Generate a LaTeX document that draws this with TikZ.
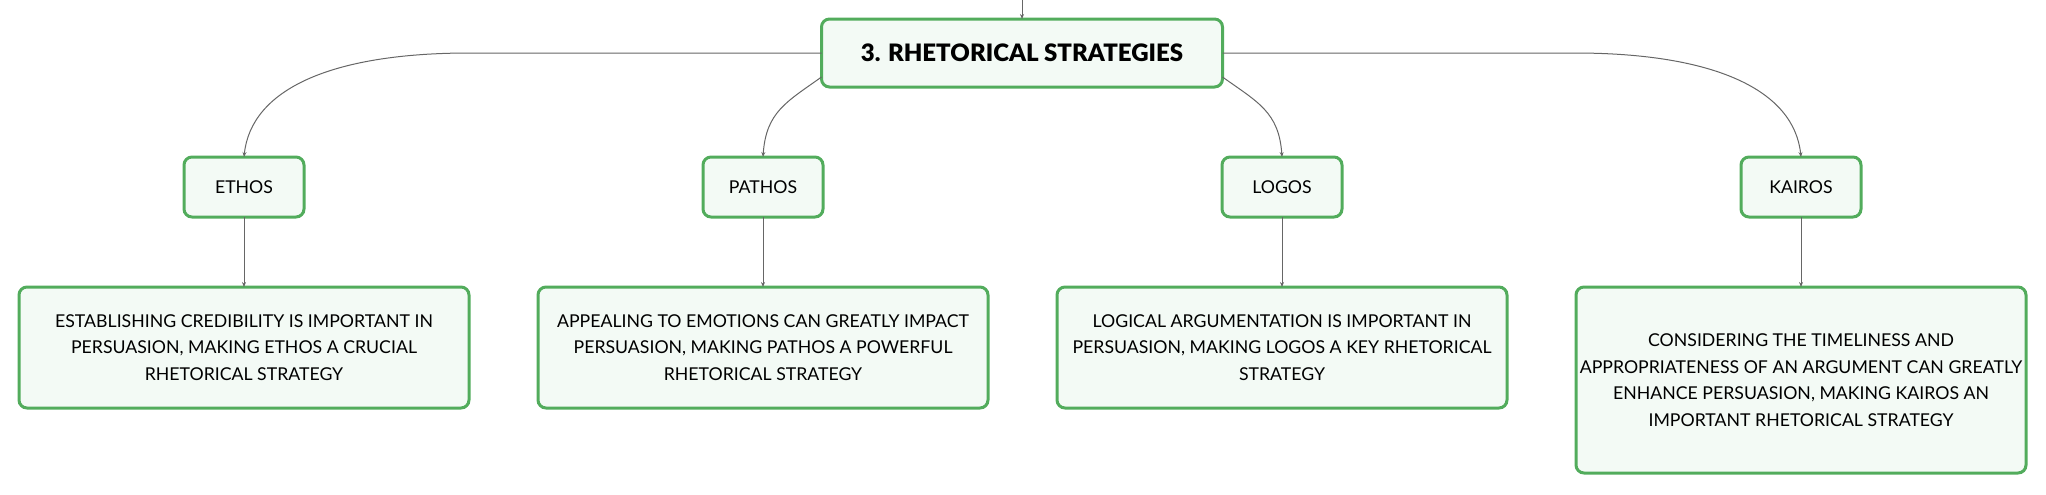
\documentclass[tikz,border=0pt]{standalone}
\usepackage{fontspec}
\setmainfont{Lato}
\newfontfamily\titlefont{Lato Black}
\usetikzlibrary{arrows.meta}
\definecolor{boxgreen}{RGB}{82,172,92}
\definecolor{boxfill}{RGB}{243,250,245}
\definecolor{linkgray}{RGB}{102,102,102}

\begin{document}
\begin{tikzpicture}[x=0.5pt, y=-0.5pt, inner sep=0pt, outer sep=0pt,
  topic/.style={draw=boxgreen, fill=boxfill, line width=1.5pt, rounded corners=4pt, align=center, font=\fontsize{8.85}{13.3}\selectfont},
  subtopic/.style={topic, minimum width=60pt, minimum height=30pt},
  detail/.style={topic, minimum width=225pt, minimum height=60.5pt},
  link/.style={draw=linkgray, line width=0.5pt, -{Stealth[length=2.5pt,width=2pt]}}]
  \useasboundingbox (0,0) rectangle (2046,494);
  % central topic
  \coordinate (top) at (1022,0);
  \node[topic, minimum width=200.5pt, minimum height=34pt, font=\fontsize{12}{14}\titlefont] (title) at (1022,53) {3. RHETORICAL STRATEGIES};
  % the four appeals
  \node[subtopic] (ethos) at (244,187) {ETHOS};
  \node[subtopic] (pathos) at (763,187) {PATHOS};
  \node[subtopic] (logos) at (1282,187) {LOGOS};
  \node[subtopic] (kairos) at (1801,187) {KAIROS};
  % details
  \node[detail] (ethosText) at (244,347.5) {ESTABLISHING CREDIBILITY IS IMPORTANT IN\\PERSUASION, MAKING ETHOS A CRUCIAL\\RHETORICAL STRATEGY};
  \node[detail] (pathosText) at (763,347.5) {APPEALING TO EMOTIONS CAN GREATLY IMPACT\\PERSUASION, MAKING PATHOS A POWERFUL\\RHETORICAL STRATEGY};
  \node[detail] (logosText) at (1282,347.5) {LOGICAL ARGUMENTATION IS IMPORTANT IN\\PERSUASION, MAKING LOGOS A KEY RHETORICAL\\STRATEGY};
  \node[detail, minimum height=93pt] (kairosText) at (1801,380) {CONSIDERING THE TIMELINESS AND\\APPROPRIATENESS OF AN ARGUMENT CAN GREATLY\\ENHANCE PERSUASION, MAKING KAIROS AN\\IMPORTANT RHETORICAL STRATEGY};
  % connectors
  \draw[link] (top) -- (title.north);
  \draw[link] (title.west) -- ++(-352,0) .. controls +(-140,0) and +(7,-67) .. (ethos.north);
  \draw[link] ([yshift=-12pt]title.west) .. controls +(-35,25) and +(3,-45) .. (pathos.north);
  \draw[link] ([yshift=-12pt]title.east) .. controls +(35,25) and +(-3,-45) .. (logos.north);
  \draw[link] (title.east) -- ++(352,0) .. controls +(140,0) and +(-7,-67) .. (kairos.north);
  \foreach \n in {ethos,pathos,logos,kairos}
    \draw[link] (\n.south) -- (\n Text.north);
\end{tikzpicture}
\end{document}
